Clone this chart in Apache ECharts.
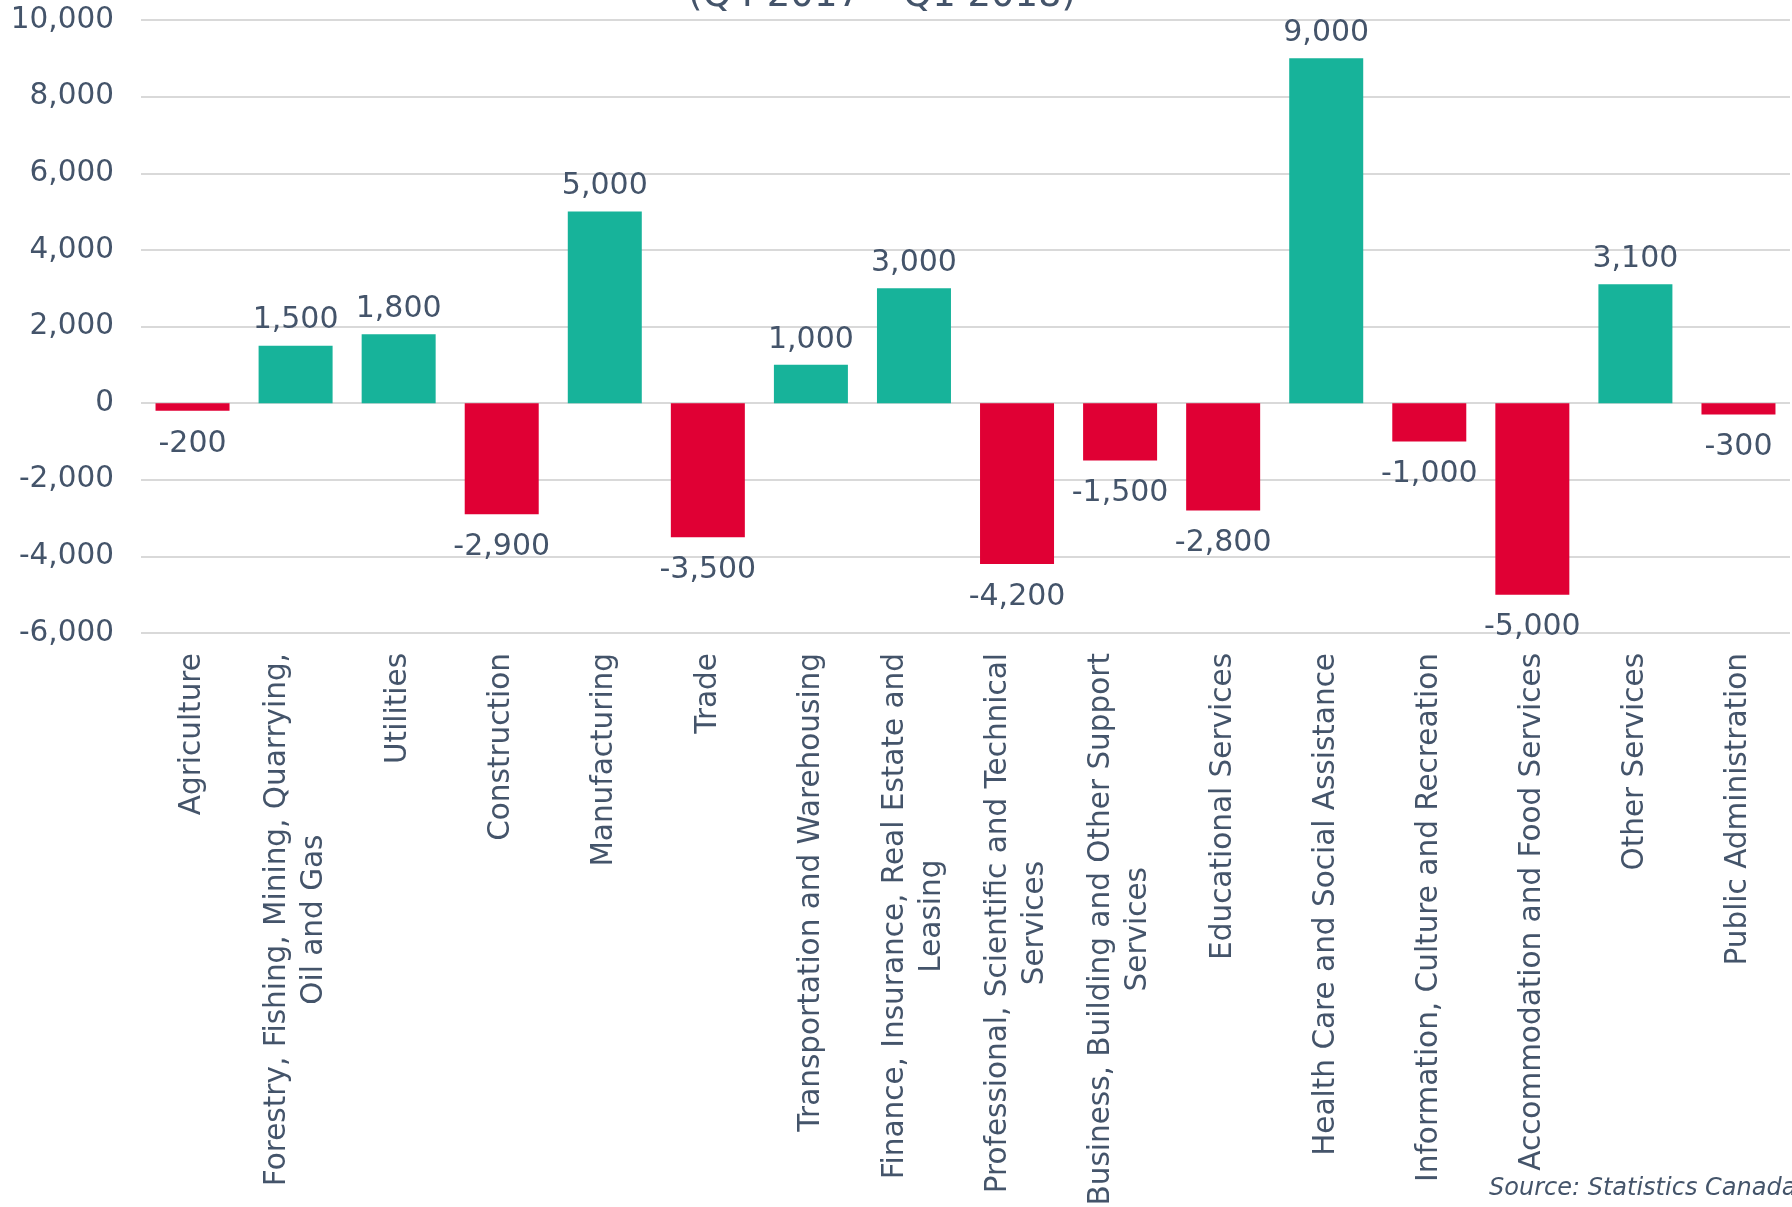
<!DOCTYPE html>
<html>
<head>
<meta charset="utf-8">
<style>
  html, body { margin: 0; padding: 0; background: #fff; }
  #chart { width: 1792px; height: 1207px; }
</style>
<script src="https://cdn.jsdelivr.net/npm/echarts@6/dist/echarts.min.js"></script>
</head>
<body>
<div id="chart"></div>
<script>
// industries (line breaks as they wrap on the original chart)
const industries = [
  'Agriculture',
  'Forestry, Fishing, Mining, Quarrying,\nOil and Gas',
  'Utilities',
  'Construction',
  'Manufacturing',
  'Trade',
  'Transportation and Warehousing',
  'Finance, Insurance, Real Estate and\nLeasing',
  'Professional, Scientific and Technical\nServices',
  'Business, Building and Other Support\nServices',
  'Educational Services',
  'Health Care and Social Assistance',
  'Information, Culture and Recreation',
  'Accommodation and Food Services',
  'Other Services',
  'Public Administration'
];
const employmentChange = [-200, 1500, 1800, -2900, 5000, -3500, 1000, 3000, -4200, -1500, -2800, 9000, -1000, -5000, 3100, -300];
const yTicks = { min: -6000, max: 10000, step: 2000 };

const textColor = '#44546a';
const upColor = '#17b39a';
const downColor = '#e00034';
const fontFamily = '"DejaVu Sans", Verdana, sans-serif';

const chart = echarts.init(document.getElementById('chart'));

const fmt = (v) => Number(v).toLocaleString('en-US');

const barData = employmentChange.map((v) => ({
  value: v,
  itemStyle: { color: v >= 0 ? upColor : downColor },
  label: { position: v >= 0 ? 'top' : 'bottom', distance: v >= 0 ? 10 : 18 }
}));

const option = {
  animation: false,
  textStyle: { fontFamily: fontFamily },
  grid: { left: 141, right: 2, top: 20, bottom: 574, containLabel: false, outerBoundsMode: 'none' },
  graphic: [
    {
      type: 'text',
      x: 882,
      y: 15,
      style: {
        text: '(Q4 2017 – Q1 2018)',
        font: '37px ' + fontFamily,
        fill: textColor,
        textAlign: 'center',
        textVerticalAlign: 'bottom'
      }
    },
    {
      type: 'text',
      x: 1489,
      y: 1189,
      style: {
        text: 'Source: Statistics Canada',
        font: 'italic 24px ' + fontFamily,
        fill: textColor,
        textAlign: 'left',
        textVerticalAlign: 'middle'
      }
    }
  ],
  xAxis: {
    type: 'category',
    data: industries,
    axisLine: { show: false },
    axisTick: { show: false },
    axisLabel: {
      interval: 0,
      rotate: 90,
      margin: 20,
      color: textColor,
      formatter: (val) => val.split('\n').map((l) => '{c|' + l + '}').join('\n'),
      rich: {
        c: { align: 'center', fontSize: 29.5, lineHeight: 37, color: textColor, fontFamily: fontFamily }
      }
    }
  },
  yAxis: {
    type: 'value',
    min: yTicks.min,
    max: yTicks.max,
    interval: yTicks.step,
    axisLine: { show: false },
    axisTick: { show: false },
    axisLabel: {
      margin: 27,
      fontSize: 29.5,
      color: textColor,
      formatter: fmt
    },
    splitLine: { lineStyle: { color: '#d9d9d9', width: 2 } }
  },
  series: [
    {
      type: 'bar',
      data: barData,
      barWidth: 74,
      label: {
        show: true,
        fontSize: 30,
        color: textColor,
        formatter: (p) => fmt(p.value)
      }
    }
  ]
};

chart.setOption(option);
</script>
</body>
</html>
